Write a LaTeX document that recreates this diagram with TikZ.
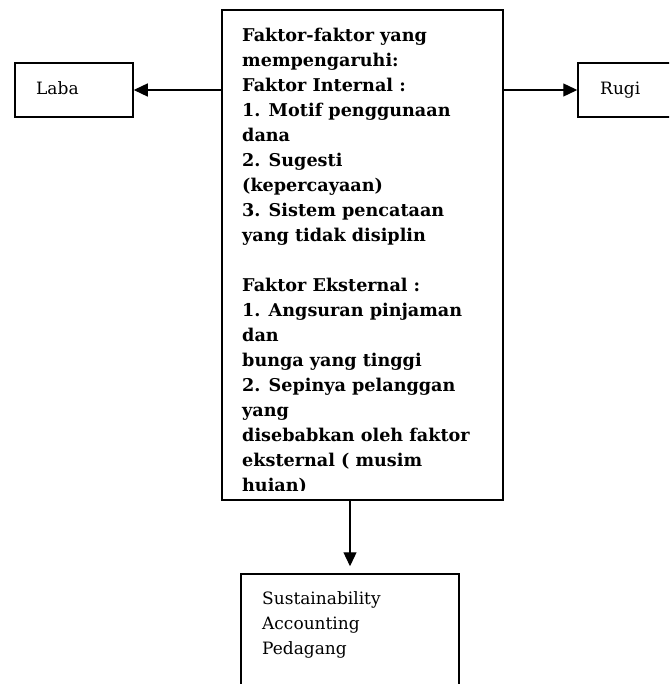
\documentclass[tikz,border=0pt]{standalone}
\usepackage{fontspec}
\setmainfont{DejaVu Serif}
\usetikzlibrary{arrows.meta}
\begin{document}
\begin{tikzpicture}[x=1pt,y=-1pt,
  box/.style={draw,line width=1.5pt,inner sep=0pt},
  conn/.style={line width=1.3pt,-{Triangle[length=14pt,width=13pt]}},
  txt/.style={inner sep=0pt,align=left,font=\fontsize{17}{25}\selectfont},
  boldtxt/.style={txt,font=\fontsize{17.6}{25}\selectfont\bfseries}]
\useasboundingbox (0,0) rectangle (669,684);
\clip (0,0) rectangle (669,684);
% boxes
\node[box,minimum width=281pt,minimum height=490pt] (main) at (362.5,255) {};
\node[box,minimum width=118pt,minimum height=54pt] (laba) at (74,90) {};
\node[box,minimum width=122pt,minimum height=54pt] (rugi) at (639,90) {};
\node[box,minimum width=218pt,minimum height=140pt] (bot) at (350,644) {};
% texts
\node[txt,anchor=base west] (labat) at (36,95) {Laba};
\node[txt,anchor=base west] (rugit) at (600,95) {Rugi};
\node[txt,anchor=north west] (bott) at (262,591) {Sustainability\\Accounting\\Pedagang};
\begin{scope}
\clip (223,11) rectangle (502,490);
\node[boldtxt,anchor=north west] (maint) at (242,28) {Faktor-faktor yang\\mempengaruhi:\\Faktor Internal :\\1. Motif penggunaan\\dana\\2. Sugesti\\(kepercayaan)\\3. Sistem pencataan\\yang tidak disiplin\\[25pt]Faktor Eksternal :\\1. Angsuran pinjaman\\dan\\bunga yang tinggi\\2. Sepinya pelanggan\\yang\\disebabkan oleh faktor\\eksternal ( musim\\huian)};
\end{scope}
% connectors
\draw[conn] (main.west |- laba.east) -- (laba.east);
\draw[conn] (main.east |- rugi.west) -- (rugi.west);
\draw[conn,shorten >=7pt] (main.south -| bot.north) -- (bot.north);
\end{tikzpicture}
\end{document}
